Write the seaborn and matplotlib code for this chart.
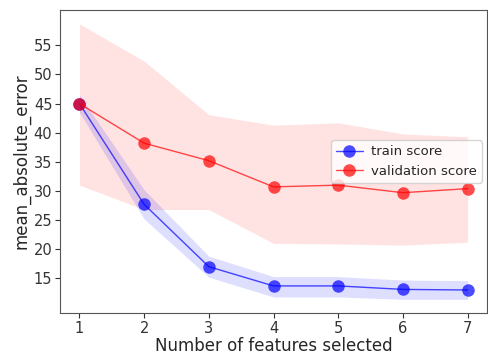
import numpy as np
import pandas as pd
import matplotlib
matplotlib.use("Agg")
import matplotlib.pyplot as plt
import seaborn as sns

# feature counts and scores
n_features = [1, 2, 3, 4, 5, 6, 7]
train_mean = [45.0, 27.7, 17.0, 13.7, 13.7, 13.1, 13.0]
train_low = [43.5, 25.2, 15.2, 11.8, 11.8, 11.4, 11.4]
train_high = [46.5, 30.2, 18.8, 15.3, 15.3, 14.7, 14.6]
valid_mean = [45.0, 38.2, 35.2, 30.7, 31.0, 29.7, 30.4]
valid_low = [31.0, 26.8, 26.8, 21.0, 20.9, 20.7, 21.2]
valid_high = [58.7, 52.3, 43.1, 41.3, 41.7, 39.8, 39.3]
y_ticks = [15, 20, 25, 30, 35, 40, 45, 50, 55]

df = pd.DataFrame({
    "n": n_features * 2,
    "score": train_mean + valid_mean,
    "kind": ["train score"] * 7 + ["validation score"] * 7,
})

sns.set_style("ticks")
fig, ax = plt.subplots(figsize=(4.88, 3.57), dpi=100)

ax.fill_between(n_features, valid_low, valid_high, color="red", alpha=0.11, linewidth=0)
ax.fill_between(n_features, train_low, train_high, color="blue", alpha=0.13, linewidth=0)

sns.lineplot(data=df, x="n", y="score", hue="kind",
             palette={"train score": "blue", "validation score": "red"},
             marker="o", markersize=9, alpha=0.7, linewidth=1,
             markeredgewidth=0, ax=ax)

ax.set_yticks(y_ticks)
ax.set_xticks(n_features)
ax.set_xlabel("Number of features selected", fontsize=12, labelpad=1)
ax.set_ylabel("mean_absolute_error", fontsize=12, labelpad=2)
ax.tick_params(labelsize=10.5, colors="#333333", pad=2)
for s in ax.spines.values():
    s.set_color("#555555")

ax.legend(title=None, loc="center right", fontsize=9.5, frameon=True,
          borderaxespad=0.4, handletextpad=0.6)

fig.subplots_adjust(left=0.123, right=0.998, top=0.972, bottom=0.123)
fig.savefig("out.png")
